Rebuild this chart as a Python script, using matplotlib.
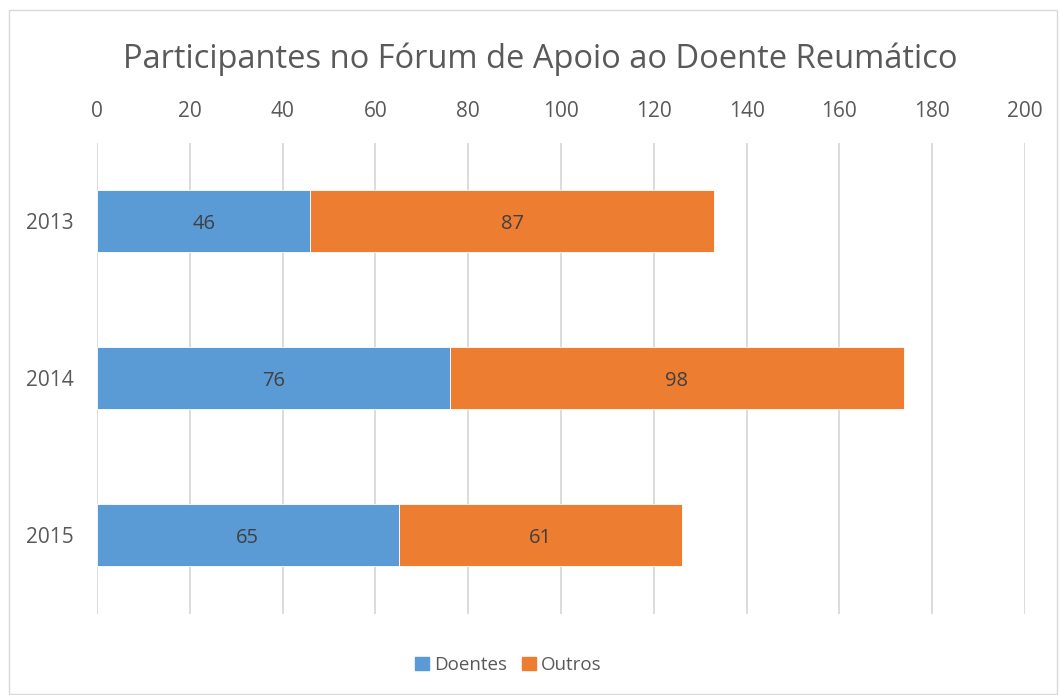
import matplotlib
matplotlib.use("Agg")
import matplotlib.pyplot as plt
from matplotlib.patches import Rectangle, Patch

years = ["2013", "2014", "2015"]
doentes = [46, 76, 65]
outros = [87, 98, 61]
xticks = [0, 20, 40, 60, 80, 100, 120, 140, 160, 180, 200]
title = "Participantes no Fórum de Apoio ao Doente Reumático"

plt.rcParams['font.family'] = ['Open Sans', 'DejaVu Sans']
txt = "#595959"
blue = "#5B9BD5"
orange = "#ED7D31"

fig = plt.figure(figsize=(10.59, 6.95), dpi=100)
ax = fig.add_axes([97/1059, 1-613.5/695, (1025-97)/1059, (613.5-142.5)/695])

y = list(range(len(years)))
b1 = ax.barh(y, doentes, height=0.4, color=blue, edgecolor="white", linewidth=0.6)
b2 = ax.barh(y, outros, left=doentes, height=0.4, color=orange, edgecolor="white", linewidth=0.6)
for bars, vals in ((b1, doentes), (b2, outros)):
    lbls = ax.bar_label(bars, labels=[str(v) for v in vals], label_type="center",
                        fontsize=14.5, color="#404040")
    for t in lbls:
        t.set_y(t.get_position()[1] - 2)

ax.set_xlim(0, 200)
ax.set_ylim(2.5, -0.5)
ax.set_xticks(xticks)
ax.set_yticks(y)
ax.set_yticklabels(years)
ax.xaxis.tick_top()
ax.tick_params(axis="x", length=0, pad=14.5, labelsize=15, labelcolor=txt)
ax.tick_params(axis="y", length=0, pad=16.5, labelsize=15, labelcolor=txt)
ax.grid(axis="x", color="#D9D9D9", linewidth=1.3)
ax.set_axisbelow(True)
for s in ax.spines.values():
    s.set_visible(False)

fig.text(540/1059, 1-59/695, title, ha="center", va="center", fontsize=23.5, color=txt)

handles = [Patch(color=blue, label="Doentes"), Patch(color=orange, label="Outros")]
fig.legend(handles=handles, loc="center", bbox_to_anchor=(508/1059, 1-665/695), ncol=2,
           frameon=False, fontsize=13.5, labelcolor=txt, handlelength=0.75, handleheight=0.75,
           handletextpad=0.25, columnspacing=0.8)

fig.patches.append(Rectangle((9/1059, 0.002), 1-11/1059, 1-11/695, transform=fig.transFigure,
                             fill=False, edgecolor="#D9D9D9", linewidth=1))

fig.savefig("out.png", dpi=100, facecolor="white")
